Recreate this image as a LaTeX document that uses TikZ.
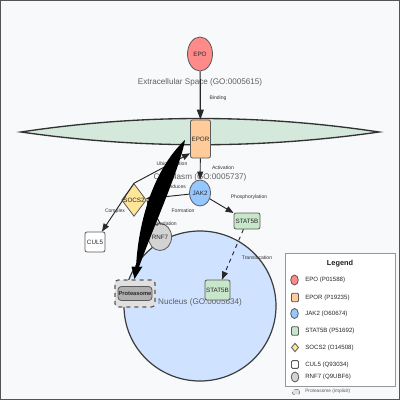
\documentclass[tikz,border=0pt]{standalone}
\usepackage{fontspec}
\setmainfont{Liberation Sans}
\usepackage{tikz}
\usetikzlibrary{shapes.geometric,arrows.meta}

\begin{document}
\begin{tikzpicture}[x=0.75pt,y=0.75pt,yscale=-1,xscale=1,
  mol/.style={draw={rgb, 255:red, 90; green, 90; blue, 90 },line width=0.6pt,inner sep=0pt,text={rgb, 255:red, 40; green, 40; blue, 40 },font=\fontsize{4.7}{5.5}\selectfont},
  box/.style={mol,rectangle,rounded corners=1.5pt},
  oval/.style={mol,ellipse},
  link/.style={draw={rgb, 255:red, 40; green, 40; blue, 40 },line width=0.7pt,-{Triangle[length=6pt,width=4.5pt]}},
  lbl/.style={inner sep=0.5pt,text={rgb, 255:red, 50; green, 50; blue, 50 },font=\fontsize{3.8}{4.5}\selectfont},
  region/.style={inner sep=0pt,text={rgb, 255:red, 95; green, 95; blue, 95 },font=\fontsize{6.1}{7}\selectfont},
  lgtxt/.style={anchor=west,inner sep=0pt,text={rgb, 255:red, 40; green, 40; blue, 40 },font=\fontsize{4.6}{5.5}\selectfont}
]
\useasboundingbox (0,0) rectangle (400,400);
%Shape: Rectangle [frame]
\draw [draw={rgb, 255:red, 85; green, 85; blue, 85 },fill={rgb, 255:red, 248; green, 249; blue, 250 },line width=0.75pt] (0.5,0.5) rectangle (399.5,399.5);

%Shape: Lens [membrane]
\draw [draw={rgb, 255:red, 50; green, 50; blue, 50 },fill={rgb, 255:red, 212; green, 232; blue, 220 },line width=1pt] (21,132) .. controls (140,114) and (260,114) .. (379,132) .. controls (260,149) and (140,149) .. (21,132) -- cycle ;
%Shape: Circle [nucleus]
\draw [draw={rgb, 255:red, 60; green, 60; blue, 60 },fill={rgb, 255:red, 207; green, 226; blue, 255 },line width=0.9pt] (200,306) ellipse (76 and 75) ;

% Text Node
\node [region] (extra) at (200,82.5) {Extracellular Space (GO:0005615)};
% Text Node
\node [region] (cyto) at (200,177) {Cytoplasm (GO:0005737)};
% Text Node
\node [region] (nuc) at (200,302.5) {Nucleus (GO:0005634)};

%Shape: Circle [id:epo]
\node [oval,fill={rgb, 255:red, 255; green, 138; blue, 138 },minimum width=18.75pt,minimum height=25.5pt] (epo) at (200,54) {EPO};
%Shape: Rectangle [id:epor]
\node [box,fill={rgb, 255:red, 255; green, 204; blue, 153 },minimum width=15pt,minimum height=28.5pt] (epor) at (200.5,139) {EPOR};
%Shape: Circle [id:jak]
\node [oval,fill={rgb, 255:red, 150; green, 200; blue, 255 },minimum width=15pt,minimum height=19.5pt] (jak) at (200,193) {JAK2};
%Shape: Rectangle [id:stat]
\node [box,fill={rgb, 255:red, 200; green, 230; blue, 201 },minimum width=19.5pt,minimum height=12pt] (stat) at (247,221) {STAT5B};
%Shape: Diamond [id:socs]
\node [mol,diamond,aspect=0.75,fill={rgb, 255:red, 255; green, 229; blue, 153 },minimum width=14pt,minimum height=19.5pt] (socs) at (134,200) {SOCS2};
%Shape: Rectangle [id:cul]
\node [box,fill=white,minimum width=15pt,minimum height=15pt] (cul) at (95,242) {CUL5};
%Shape: Circle [id:rnf]
\node [oval,fill={rgb, 255:red, 211; green, 211; blue, 211 },minimum width=15pt,minimum height=20.25pt] (rnf) at (160,237) {RNF7};
%Shape: Rectangle [id:statn]
\node [box,fill={rgb, 255:red, 200; green, 230; blue, 201 },minimum width=18.75pt,minimum height=15pt] (statn) at (217.5,290) {STAT5B};
%Shape: Rectangle [id:prot]
\node [box,dashed,line width=0.9pt,fill={rgb, 255:red, 224; green, 224; blue, 224 },rounded corners=2.5pt,minimum width=30pt,minimum height=20.25pt] (prot) at (135,293.5) {};
\node [box,fill={rgb, 255:red, 176; green, 176; blue, 176 },rounded corners=2.5pt,minimum width=25.5pt,minimum height=10.5pt,font=\bfseries\fontsize{4.3}{5}\selectfont] (protin) at (prot) {Proteasome};

%Straight Lines [Binding]
\draw [link,line width=0.9pt,-{Triangle[length=7.5pt,width=5.2pt]}] (epo) -- (epor) ;
%Straight Lines [Activation]
\draw [link] (epor) -- (jak) ;
%Straight Lines [Phosphorylation]
\draw [link] (jak) -- (stat) ;
%Straight Lines [Induces]
\draw [link] (jak) -- (socs) ;
%Straight Lines [Ubiquitination]
\draw [link] (socs.north) -- (epor.234) ;
%Straight Lines [Complex]
\draw [link] (socs.north) -- (cul) ;
%Straight Lines [Formation]
\draw [link] (rnf.north) -- (socs.east) ;
%Straight Lines [Translocation]
\draw [link,dashed] (stat) -- (statn) ;

% Text Node
\node [lbl] (lbind) at (218,98) {Binding};
% Text Node
\node [lbl] (lact) at (223,168) {Activation};
% Text Node
\node [lbl] (lphos) at (249,197) {Phosphorylation};
% Text Node
\node [lbl] (lind) at (177,187) {Induces};
% Text Node
\node [lbl] (lubi) at (172,164) {Ubiquitination};
% Text Node
\node [lbl] (lcom) at (115,211) {Complex};
% Text Node
\node [lbl] (lform) at (183,211) {Formation};
% Text Node
\node [lbl] (ldeg) at (163,224.5) {Degradation};
% Text Node
\node [lbl] (ltrans) at (257,258) {Translocation};

%Shape: Wedge [Degradation]
\fill [black] (185,140) .. controls (158,165) and (139,212) .. (136,267) -- (131.5,266.5) -- (134.5,279) -- (142.5,266.5) -- (139,267) .. controls (153,228) and (180,168) .. (185,140) -- cycle ;

%Shape: Rectangle [legend]
\draw [draw={rgb, 255:red, 150; green, 150; blue, 150 },fill=white,line width=0.6pt] (285,253) rectangle (395,386.5) ;
% Text Node
\node [font=\bfseries\fontsize{5.5}{6.5}\selectfont,text={rgb, 255:red, 30; green, 30; blue, 30 }] (lgtitle) at (340,264) {Legend};
\node [oval,fill={rgb, 255:red, 255; green, 138; blue, 138 },minimum width=5.7pt,minimum height=7.5pt] (lgepo) at (294.5,280) {};
\node [lgtxt] (tepo) at (305,280) {EPO (P01588)};
\node [box,rounded corners=0.8pt,fill={rgb, 255:red, 255; green, 204; blue, 153 },minimum width=5.2pt,minimum height=6.5pt] (lgepor) at (295,297.5) {};
\node [lgtxt] (tepor) at (305,297.5) {EPOR (P19235)};
\node [oval,fill={rgb, 255:red, 150; green, 200; blue, 255 },minimum width=5.7pt,minimum height=7.5pt] (lgjak) at (294.5,313.5) {};
\node [lgtxt] (tjak) at (305,313.5) {JAK2 (O60674)};
\node [box,rounded corners=0.8pt,fill={rgb, 255:red, 200; green, 230; blue, 201 },minimum width=5.2pt,minimum height=6.5pt] (lgstat) at (295,331) {};
\node [lgtxt] (tstat) at (305,331) {STAT5B (P51692)};
\node [mol,diamond,fill={rgb, 255:red, 255; green, 229; blue, 153 },minimum width=5.5pt,minimum height=6.5pt] (lgsocs) at (295,347.5) {};
\node [lgtxt] (tsocs) at (305,347.5) {SOCS2 (O14508)};
\node [box,rounded corners=0.8pt,fill=white,minimum width=5.2pt,minimum height=5.8pt] (lgcul) at (295,364.5) {};
\node [lgtxt] (tcul) at (305,364.5) {CUL5 (Q93034)};
\node [oval,fill={rgb, 255:red, 211; green, 211; blue, 211 },minimum width=5.7pt,minimum height=7.5pt] (lgrnf) at (295,377) {};
\node [lgtxt] (trnf) at (305,377) {RNF7 (Q9UBF6)};
\node [box,dashed,line width=0.3pt,rounded corners=0.8pt,fill={rgb, 255:red, 224; green, 224; blue, 224 },minimum width=5.5pt,minimum height=3.5pt] (lgprot) at (296,392) {};
\node [lgtxt,font=\fontsize{3.6}{4.2}\selectfont,text={rgb, 255:red, 90; green, 90; blue, 90 }] (tprot) at (305,391.5) {Proteasome (implicit)};

\end{tikzpicture}
\end{document}
